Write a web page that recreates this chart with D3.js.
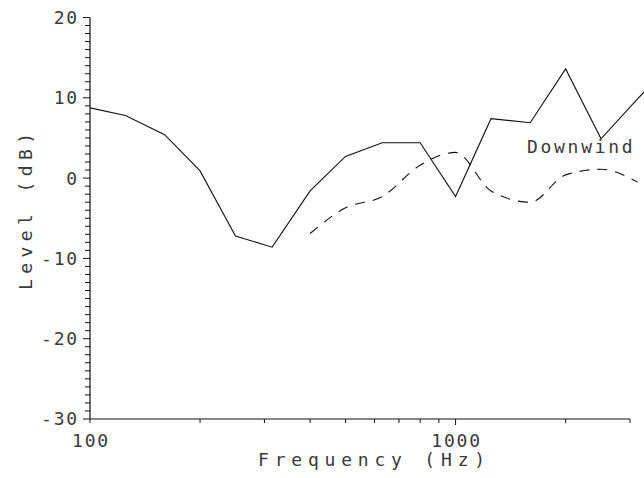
<!DOCTYPE html>
<html>
<head>
<meta charset="utf-8">
<script src="https://cdn.jsdelivr.net/npm/d3@7"></script>
<style>
  body { margin: 0; background: #fff; }
  text { font-family: "DejaVu Sans Mono", monospace; font-size: 18px; fill: #3a3a3a; font-variant-numeric: slashed-zero; }
</style>
</head>
<body>
<div id="chart"></div>
<script>
// 1/3 octave band centres (Hz)
var freqSolid = [100, 125, 160, 200, 250, 315, 400, 500, 630, 800, 1000, 1250, 1600, 2000, 2500, 3150, 4000];
var levelSolid = [8.75, 7.8, 5.4, 0.9, -7.2, -8.6, -1.6, 2.7, 4.4, 4.4, -2.3, 7.4, 6.9, 13.6, 4.9, 9.9, 14.8];

var freqDashed = [400, 500, 630, 800, 1000, 1250, 1600, 2000, 2500, 3150];
var levelDashed = [-6.9, -3.7, -2.3, 1.6, 3.2, -1.6, -3.0, 0.4, 1.1, -0.5];

var xTicks = [100, 200, 300, 400, 500, 600, 700, 800, 900, 1000, 2000, 3000];
var xLabels = [100, 1000];
var yLabels = [20, 10, 0, -10, -20, -30];

var width = 644, height = 478;

var svg = d3.select("#chart").append("svg")
  .attr("width", width).attr("height", height);

var x = d3.scaleLog().domain([100, 3000]).range([90, 630]);
var y = d3.scaleLinear().domain([-30, 20]).range([419, 17.5]);

// clip so the lines run off the page edge like the scan
svg.append("clipPath").attr("id", "plot")
  .append("rect").attr("x", 90).attr("y", 0).attr("width", width - 90).attr("height", 419);

// y axis
var yAxis = svg.append("g");
yAxis.append("line")
  .attr("x1", x(100)).attr("x2", x(100))
  .attr("y1", y(20)).attr("y2", y(-30))
  .attr("stroke", "#111").attr("stroke-width", 1.2);
yAxis.selectAll("line.tick").data(d3.range(-30, 21)).enter().append("line")
  .attr("class", "tick")
  .attr("x1", function(d){ return x(100) - (d % 10 == 0 ? 7 : 5); })
  .attr("x2", x(100))
  .attr("y1", function(d){ return y(d); })
  .attr("y2", function(d){ return y(d); })
  .attr("stroke", "#111");
yAxis.selectAll("text").data(yLabels).enter().append("text")
  .attr("x", 79)
  .attr("y", function(d){ return y(d); })
  .attr("dy", "0.36em")
  .attr("text-anchor", "end")
  .style("letter-spacing", "1.8px")
  .text(function(d){ return d; });

// x axis
var xAxis = svg.append("g");
xAxis.append("line")
  .attr("x1", x(100)).attr("x2", x(3000))
  .attr("y1", y(-30)).attr("y2", y(-30))
  .attr("stroke", "#111").attr("stroke-width", 1.2);
xAxis.selectAll("line.tick").data(xTicks).enter().append("line")
  .attr("class", "tick")
  .attr("x1", function(d){ return x(d); })
  .attr("x2", function(d){ return x(d); })
  .attr("y1", y(-30))
  .attr("y2", function(d){ return y(-30) + (d == 1000 ? 6 : 4); })
  .attr("stroke", "#111");
xAxis.selectAll("text").data(xLabels).enter().append("text")
  .attr("x", function(d){ return x(d) + 1; })
  .attr("y", 447)
  .attr("text-anchor", "middle")
  .style("letter-spacing", "1.8px")
  .text(function(d){ return d; });

// axis titles
svg.append("text")
  .attr("x", 258).attr("y", 466)
  .style("letter-spacing", "5.8px")
  .text("Frequency (Hz)");

svg.append("text")
  .attr("transform", "translate(32,290) rotate(-90)")
  .style("letter-spacing", "5.4px")
  .text("Level (dB)");

// series
var line = d3.line()
  .x(function(d){ return x(d[0]); })
  .y(function(d){ return y(d[1]); });

svg.append("path")
  .datum(d3.zip(freqSolid, levelSolid))
  .attr("clip-path", "url(#plot)")
  .attr("d", line)
  .attr("fill", "none")
  .attr("stroke", "#111")
  .attr("stroke-width", 1.1);

svg.append("path")
  .datum(d3.zip(freqDashed, levelDashed))
  .attr("d", line.curve(d3.curveMonotoneX))
  .attr("fill", "none")
  .attr("stroke", "#111")
  .attr("stroke-width", 1.1)
  .attr("stroke-dasharray", "10,8");

svg.append("text")
  .attr("x", 527).attr("y", 153)
  .style("letter-spacing", "2.7px")
  .text("Downwind");
</script>
</body>
</html>
